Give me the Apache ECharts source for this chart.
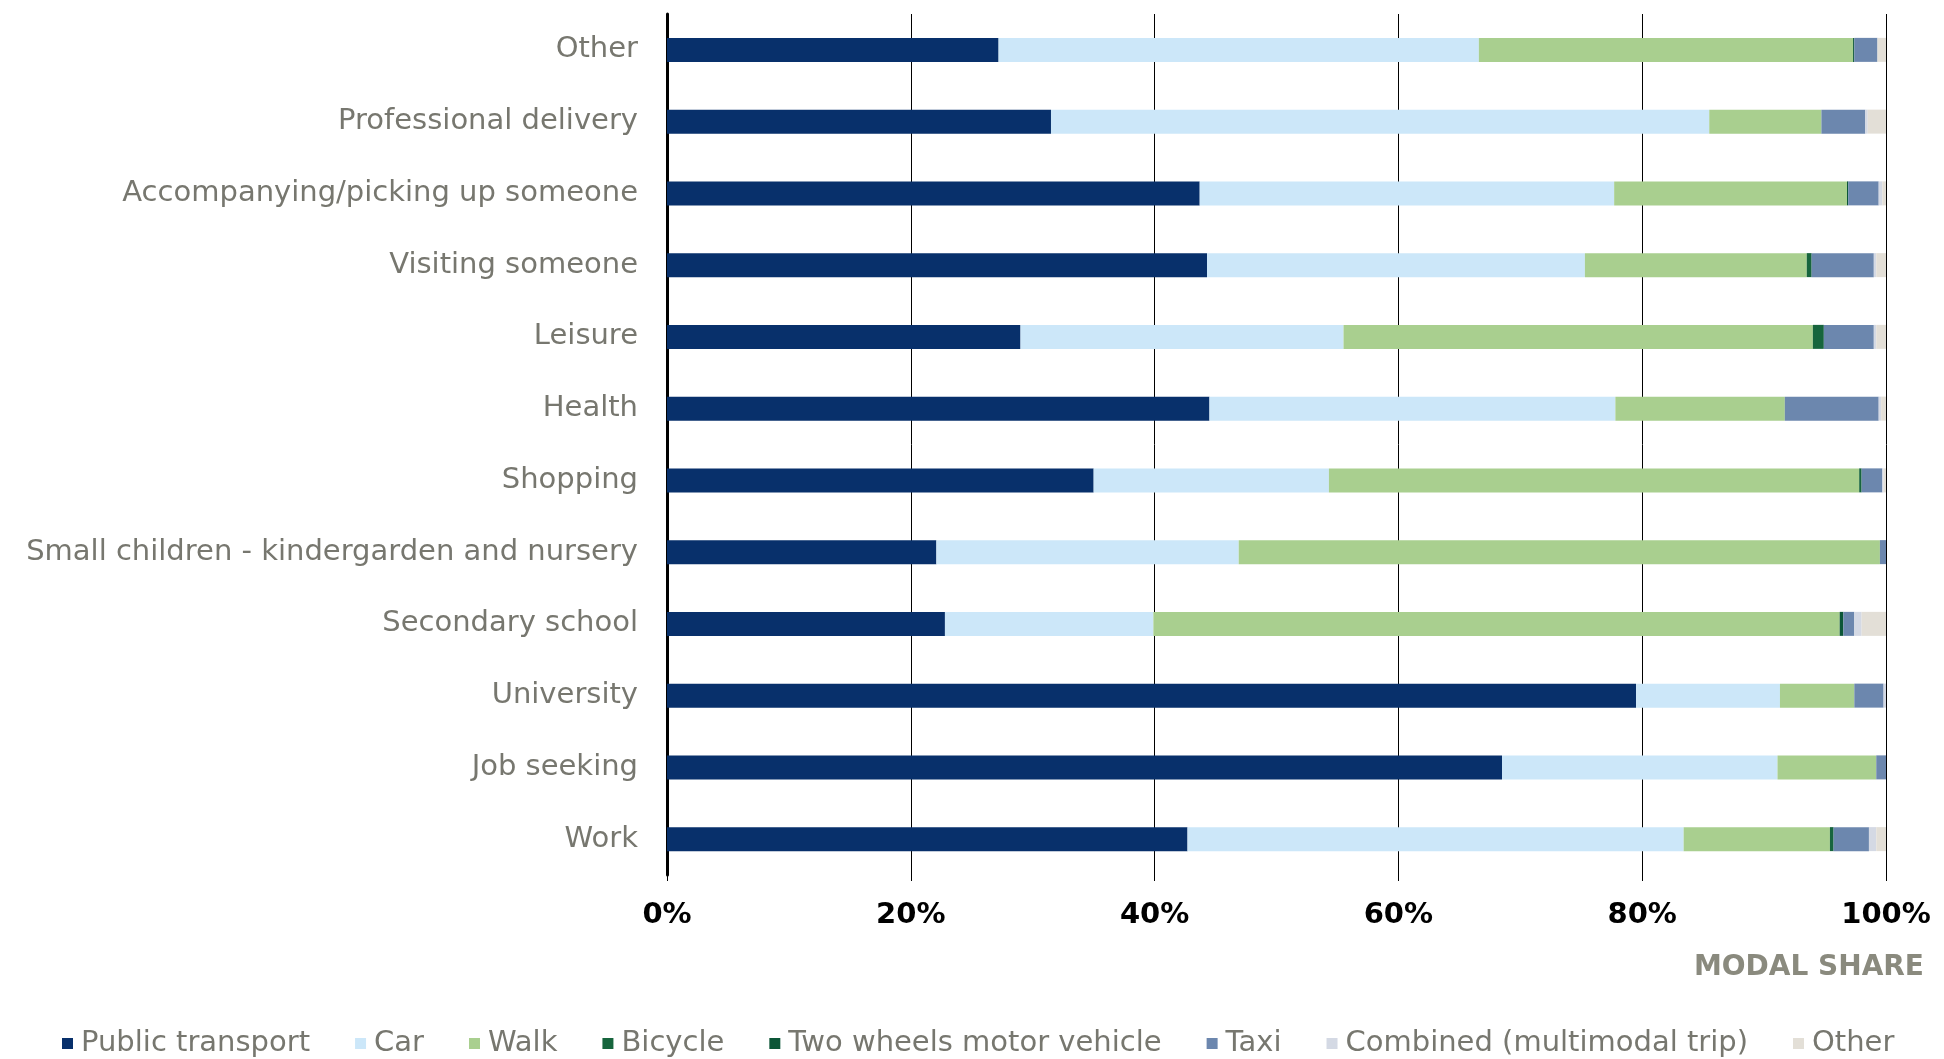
<!DOCTYPE html>
<html>
<head>
<meta charset="utf-8">
<title>Modal share by trip purpose</title>
<script src="https://cdn.jsdelivr.net/npm/echarts@6/dist/echarts.min.js"></script>
<style>
  html, body { margin: 0; padding: 0; background: #ffffff; }
  #chart { width: 1944px; height: 1059px; }
</style>
</head>
<body>
<div id="chart"></div>
<script>
// Trip purposes, listed top to bottom
const purposes = [
  'Other',
  'Professional delivery',
  'Accompanying/picking up someone',
  'Visiting someone',
  'Leisure',
  'Health',
  'Shopping',
  'Small children - kindergarden and nursery',
  'Secondary school',
  'University',
  'Job seeking',
  'Work'
];

// Modal share (%) per purpose, same order as above
const publicTransport = [27.2, 31.5, 43.7, 44.3, 29.0, 44.5, 35.0, 22.1, 22.8, 79.5, 68.5, 42.7];
const car             = [39.4, 54.0, 34.0, 31.0, 26.5, 33.3, 19.3, 24.8, 17.1, 11.8, 22.6, 40.7];
const walk            = [30.7,  9.2, 19.1, 18.2, 38.5, 13.9, 43.5, 52.6, 56.3,  6.1,  8.1, 12.0];
const bicycle         = [ 0.0,  0.0,  0.0,  0.4,  0.9,  0.0,  0.2,  0.0,  0.0,  0.0,  0.0,  0.3];
const twoWheels       = [ 0.1,  0.0,  0.1,  0.0,  0.0,  0.0,  0.0,  0.0,  0.3,  0.0,  0.0,  0.0];
const taxi            = [ 1.9,  3.6,  2.5,  5.1,  4.1,  7.7,  1.7,  0.5,  0.9,  2.4,  0.8,  2.9];
const combined        = [ 0.0,  0.2,  0.3,  0.2,  0.2,  0.2,  0.1,  0.0,  0.6,  0.2,  0.0,  0.6];
const otherMode       = [ 0.7,  1.5,  0.3,  0.8,  0.8,  0.4,  0.2,  0.0,  2.0,  0.0,  0.0,  0.8];

// Value axis ticks
const shareTicks = [0, 20, 40, 60, 80, 100];

const modes = [
  { name: 'Public transport',            data: publicTransport, color: '#08306b' },
  { name: 'Car',                         data: car,             color: '#cce7f9' },
  { name: 'Walk',                        data: walk,            color: '#a9cf8f' },
  { name: 'Bicycle',                     data: bicycle,         color: '#17653d' },
  { name: 'Two wheels motor vehicle',    data: twoWheels,       color: '#0c5637' },
  { name: 'Taxi',                        data: taxi,            color: '#6c87ae' },
  { name: 'Combined (multimodal trip)',  data: combined,        color: '#d4d9e4' },
  { name: 'Other',                       data: otherMode,       color: '#e3dfd7' }
];

const labelGrey = '#77776f';
const font = 'DejaVu Sans, Verdana, sans-serif';

const chart = echarts.init(document.getElementById('chart'), null, { renderer: 'canvas' });

chart.setOption({
  animation: false,
  backgroundColor: '#ffffff',
  title: {
    text: 'MODAL SHARE',
    right: 20,
    top: 954,
    padding: 0,
    textStyle: { fontFamily: font, fontSize: 28, fontWeight: 'bold', color: '#8a8a7e' }
  },
  legend: {
    left: 62,
    top: 1029,
    icon: 'rect',
    itemWidth: 11,
    itemHeight: 11,
    itemGap: 45,
    padding: 0,
    textStyle: { fontFamily: font, fontSize: 29, color: labelGrey, padding: [0, 0, 0, 3] },
    data: modes.map(m => m.name)
  },
  grid: { left: 667, right: 58, top: 14, bottom: 184, containLabel: false },
  xAxis: {
    type: 'value',
    min: shareTicks[0],
    max: shareTicks[shareTicks.length - 1],
    interval: shareTicks[1] - shareTicks[0],
    axisLine: { show: false },
    axisTick: { show: true, length: 6, lineStyle: { color: '#000000', width: 1 } },
    splitLine: { show: true, lineStyle: { color: '#000000', width: 1 } },
    axisLabel: {
      formatter: '{value}%',
      margin: 26,
      fontFamily: font,
      fontSize: 29,
      fontWeight: 'bold',
      color: '#000000'
    }
  },
  yAxis: {
    type: 'category',
    inverse: true,
    data: purposes,
    axisLine: { show: true, lineStyle: { color: '#000000', width: 3 } },
    axisTick: { show: false },
    axisLabel: { margin: 29, fontFamily: font, fontSize: 29, color: labelGrey }
  },
  series: modes.map(m => ({
    name: m.name,
    type: 'bar',
    stack: 'share',
    barWidth: 24,
    data: m.data,
    itemStyle: { color: m.color },
    emphasis: { disabled: true }
  }))
});
</script>
</body>
</html>
